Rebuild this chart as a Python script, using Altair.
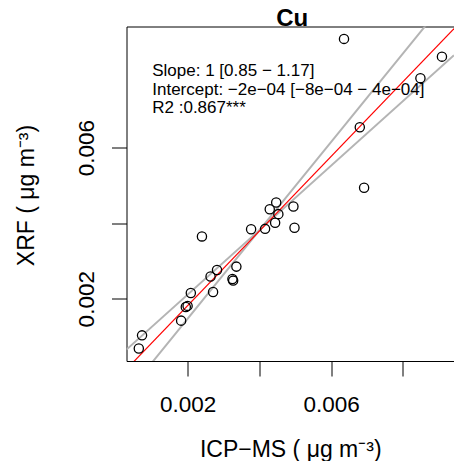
import altair as alt
import pandas as pd

# ---- data ----
icp_ms = [0.00064, 0.00073, 0.00182, 0.00195, 0.00200, 0.00209, 0.00271, 0.00264,
          0.00282, 0.00336, 0.00325, 0.00327, 0.00240, 0.00377, 0.00416, 0.00444,
          0.00429, 0.00447, 0.00453, 0.00495, 0.00498, 0.00692, 0.00680, 0.00636,
          0.00909, 0.00849]
xrf = [0.00068, 0.00103, 0.00142, 0.00178, 0.00181, 0.00215, 0.00218, 0.00259,
       0.00276, 0.00285, 0.00252, 0.00248, 0.00365, 0.00384, 0.00385, 0.00401,
       0.00437, 0.00455, 0.00424, 0.00444, 0.00388, 0.00494, 0.00654, 0.00888,
       0.00841, 0.00784]

line_names = ["fit", "upper", "lower"]
line_slopes = [0.988, 1.17, 0.854]
line_intercepts = [-0.00016, -0.00087, 0.0004]

x_domain = [0.000297, 0.009426]
y_domain = [0.000351, 0.009208]
x_ticks = [0.002, 0.004, 0.006, 0.008]
y_ticks = [0.002, 0.004, 0.006]

title_text = ["Cu"]
annot_text = ["Slope: 1 [0.85 \u2212 1.17]",
              "Intercept: \u22122e\u221204 [\u22128e\u221204 \u2212 4e\u221204]",
              "R2 :0.867***"]
annot_x = [0.001015, 0.001015, 0.001015]
annot_y = [0.007909, 0.007398, 0.006914]

FONT = "Liberation Sans"
W, H = 327.5, 334.5

pts = pd.DataFrame({"icp": icp_ms, "xrf": xrf})

rows = []
for n, b, a in zip(line_names, line_slopes, line_intercepts):
    for xv in x_domain:
        rows.append({"line": n, "icp": xv, "xrf": a + b * xv})
lines = pd.DataFrame(rows)

ann = pd.DataFrame({"t": annot_text, "icp": annot_x, "xrf": annot_y})

xscale = alt.Scale(domain=x_domain, nice=False, zero=False)
yscale = alt.Scale(domain=y_domain, nice=False, zero=False)

lab_expr = ("(round(datum.value*1000) == 2 || round(datum.value*1000) == 6) "
            "? format(datum.value, '.3f') : ''")
xaxis = alt.Axis(values=x_ticks, title="ICP\u2212MS ( \u03bcg m\u207b\u00b3)",
                 labelExpr=lab_expr, labelPadding=17,
                 titleX=W / 2, titleY=95.5, titleBaseline="alphabetic",
                 titleAlign="center")
yaxis = alt.Axis(values=y_ticks, title="XRF ( \u03bcg m\u207b\u00b3)",
                 labelExpr=lab_expr,
                 labelAngle=270, labelAlign="center", labelBaseline="bottom",
                 labelPadding=13, titleAngle=270, titleX=-93.5, titleY=168.5,
                 titleBaseline="alphabetic", titleAlign="center")

base_x = alt.X("icp:Q", scale=xscale, axis=xaxis)
base_y = alt.Y("xrf:Q", scale=yscale, axis=yaxis)

gray = alt.Chart(lines).transform_filter("datum.line != 'fit'").mark_line(
    clip=True, strokeWidth=2, color="#b4b4b4").encode(
    x=base_x, y=base_y, detail="line:N")
red = alt.Chart(lines).transform_filter("datum.line == 'fit'").mark_line(
    clip=True, strokeWidth=1.2, color="#ff0000").encode(x=base_x, y=base_y)
points = alt.Chart(pts).mark_point(shape="circle", filled=False, color="black",
                                   size=85, strokeWidth=1.3, opacity=1).encode(
    x=base_x, y=base_y)
text = alt.Chart(ann).mark_text(align="left", baseline="alphabetic", font=FONT,
                                fontSize=17, color="black").encode(
    x=base_x, y=base_y, text="t:N")
title = alt.Chart(pd.DataFrame({"t": title_text})).mark_text(
    align="center", baseline="alphabetic", font=FONT, fontSize=24,
    fontWeight="bold", color="black").encode(
    text="t:N", x=alt.value(W / 2 + 2), y=alt.value(-0.5))

chart = alt.layer(gray, red, points, text, title).properties(
    width=W, height=H,
    autosize=alt.AutoSizeParams(type="none"),
    padding={"left": 118.5, "top": 18.5, "right": 0, "bottom": 100},
).configure_view(stroke="black", strokeWidth=1).configure_axis(
    domain=False, grid=False, tickColor="black", tickSize=15, tickWidth=1,
    labelFont=FONT, labelFontSize=22.5, labelColor="black",
    titleFont=FONT, titleFontSize=23, titleFontWeight="normal", titleColor="black",
)

chart.save("out.html", embed_options={"renderer": "svg", "actions": False})
